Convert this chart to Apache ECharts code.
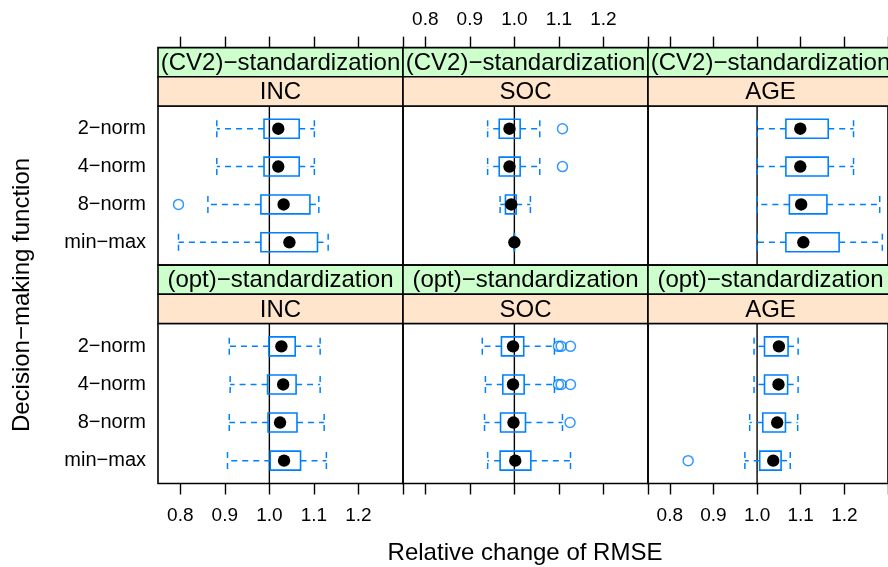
<!DOCTYPE html>
<html>
<head>
<meta charset="utf-8">
<style>
  html, body { margin: 0; padding: 0; background: #fff; }
  #chart { width: 888px; height: 567px; }
</style>
<script src="https://cdn.jsdelivr.net/npm/echarts@6/dist/echarts.min.js"></script>
</head>
<body>
<div id="chart"></div>
<script>
// Decision-making functions (rows inside each panel, top to bottom)
const dmf = ['2−norm', '4−norm', '8−norm', 'min−max'];
// Conditioning variables
const stdLevels = ['(CV2)−standardization', '(opt)−standardization'];
const covariates = ['INC', 'SOC', 'AGE'];
// Axis ticks and labels
const xTicks = [0.8, 0.9, 1.0, 1.1, 1.2, 1.3];
const xLabels = [0.8, 0.9, 1.0, 1.1, 1.2];
const REF = 1.0;

// Box statistics per decision-making function: [lower whisker, Q1, median, Q3, upper whisker]
const cv2Inc = [[0.882, 0.988, 1.020, 1.067, 1.101],
                [0.882, 0.988, 1.020, 1.067, 1.101],
                [0.862, 0.981, 1.032, 1.091, 1.111],
                [0.796, 0.981, 1.045, 1.108, 1.132]];
const cv2IncOut = [[], [], [0.796], []];

const cv2Soc = [[0.940, 0.966, 0.989, 1.013, 1.057],
                [0.940, 0.966, 0.989, 1.013, 1.057],
                [0.968, 0.980, 0.993, 1.004, 1.036],
                [1.000, 1.000, 1.000, 1.000, 1.000]];
const cv2SocOut = [[1.108], [1.108], [], []];

const cv2Age = [[1.000, 1.066, 1.099, 1.163, 1.221],
                [1.000, 1.066, 1.099, 1.163, 1.221],
                [1.000, 1.074, 1.101, 1.160, 1.281],
                [1.000, 1.066, 1.106, 1.188, 1.287]];
const cv2AgeOut = [[], [], [], []];

const optInc = [[0.910, 0.999, 1.027, 1.058, 1.114],
                [0.912, 0.996, 1.031, 1.060, 1.114],
                [0.910, 0.997, 1.024, 1.062, 1.123],
                [0.906, 1.002, 1.033, 1.070, 1.128]];
const optIncOut = [[], [], [], []];

const optSoc = [[0.928, 0.971, 0.997, 1.021, 1.090],
                [0.935, 0.974, 0.997, 1.022, 1.090],
                [0.933, 0.969, 0.998, 1.025, 1.108],
                [0.940, 0.968, 1.002, 1.037, 1.126]];
const optSocOut = [[1.099, 1.105, 1.126], [1.099, 1.105, 1.126], [1.125], []];

const optAge = [[0.993, 1.017, 1.050, 1.071, 1.094],
                [0.993, 1.017, 1.049, 1.070, 1.094],
                [0.983, 1.013, 1.046, 1.065, 1.093],
                [0.972, 1.006, 1.037, 1.055, 1.076]];
const optAgeOut = [[], [], [], [0.842]];

const panels = [
  { row: 0, col: 0, stats: cv2Inc, out: cv2IncOut },
  { row: 0, col: 1, stats: cv2Soc, out: cv2SocOut },
  { row: 0, col: 2, stats: cv2Age, out: cv2AgeOut },
  { row: 1, col: 0, stats: optInc, out: optIncOut },
  { row: 1, col: 1, stats: optSoc, out: optSocOut },
  { row: 1, col: 2, stats: optAge, out: optAgeOut }
];

// Layout
const FONT = '"Liberation Sans", Arial, Helvetica, sans-serif';
const BLUE = '#0080ff';
const PANEL_LEFT = 158, PANEL_W = 245;
const ROW_TOP = [106, 323.5], ROW_H = [159, 160];
const STRIP_H = 29.2;
const X_MIN = 0.75, X_MAX = 1.3, Y_MIN = 0.4, Y_MAX = 4.6;

const grids = [], xAxes = [], yAxes = [], series = [], graphics = [];

panels.forEach((p, g) => {
  const left = PANEL_LEFT + p.col * PANEL_W;
  const top = ROW_TOP[p.row];
  grids.push({
    left: left, top: top, width: PANEL_W, height: ROW_H[p.row],
    show: true, borderColor: '#000', borderWidth: 1.6, backgroundColor: 'transparent'
  });
  xAxes.push({
    type: 'value', gridIndex: g, min: X_MIN, max: X_MAX, position: 'bottom',
    axisLine: { show: false }, splitLine: { show: false },
    axisTick: { show: p.row === 1, customValues: xTicks, length: 11, lineStyle: { color: '#000', width: 1.4 } },
    axisLabel: {
      show: p.row === 1 && p.col !== 1, customValues: xLabels, margin: 23,
      formatter: v => v.toFixed(1), fontSize: 19, color: '#000', fontFamily: FONT
    }
  });
  yAxes.push({
    type: 'value', gridIndex: g, min: Y_MIN, max: Y_MAX, inverse: true,
    axisLine: { show: false }, axisTick: { show: false }, splitLine: { show: false },
    axisLabel: {
      show: p.col === 0, customValues: [1, 2, 3, 4], margin: 12,
      formatter: v => dmf[Math.round(v) - 1], fontSize: 20, color: '#000', fontFamily: FONT
    }
  });

  // reference line at 1
  series.push({
    type: 'line', xAxisIndex: g, yAxisIndex: g, z: 1, silent: true,
    symbol: 'none', lineStyle: { color: '#000', width: 1.4 },
    data: [[REF, Y_MIN], [REF, Y_MAX]]
  });

  // boxes and whiskers
  series.push({
    type: 'custom', xAxisIndex: g, yAxisIndex: g, z: 2, silent: true,
    encode: { x: [1, 2, 3, 4, 5], y: 0 },
    data: p.stats.map((s, i) => [i + 1].concat(s)),
    renderItem: function (params, api) {
      const y = api.value(0);
      const lo = api.coord([api.value(1), y]);
      const q1 = api.coord([api.value(2), y]);
      const md = api.coord([api.value(3), y]);
      const q3 = api.coord([api.value(4), y]);
      const hi = api.coord([api.value(5), y]);
      const bh = api.size([0, 0.5])[1];
      const ch = api.size([0, 0.45])[1];
      const dashed = { stroke: BLUE, lineWidth: 1.5, lineDash: [6, 5], fill: null };
      return {
        type: 'group',
        children: [
          { type: 'line', shape: { x1: q1[0], y1: md[1], x2: lo[0], y2: md[1] }, style: dashed },
          { type: 'line', shape: { x1: q3[0], y1: md[1], x2: hi[0], y2: md[1] }, style: dashed },
          { type: 'line', shape: { x1: lo[0], y1: md[1] - ch / 2, x2: lo[0], y2: md[1] + ch / 2 }, style: dashed },
          { type: 'line', shape: { x1: hi[0], y1: md[1] - ch / 2, x2: hi[0], y2: md[1] + ch / 2 }, style: dashed },
          { type: 'rect', shape: { x: q1[0], y: md[1] - bh / 2, width: q3[0] - q1[0], height: bh },
            style: { stroke: BLUE, lineWidth: 1.6, fill: null } },
          { type: 'circle', shape: { cx: md[0], cy: md[1], r: 6.2 }, style: { fill: '#000' } }
        ]
      };
    }
  });

  // outliers
  const outPts = [];
  p.out.forEach((vals, i) => vals.forEach(v => outPts.push([v, i + 1])));
  series.push({
    type: 'scatter', xAxisIndex: g, yAxisIndex: g, z: 3, silent: true,
    symbol: 'circle', symbolSize: 10,
    itemStyle: { color: 'transparent', borderColor: BLUE, borderWidth: 1.5 },
    data: outPts
  });

  // strips
  const s1Top = top - 2 * STRIP_H;
  graphics.push({
    type: 'rect', z: 10, shape: { x: left, y: s1Top, width: PANEL_W, height: STRIP_H },
    style: { fill: '#ccffcc', stroke: '#000', lineWidth: 1.6 }
  });
  graphics.push({
    type: 'text', z: 11, x: left + PANEL_W / 2, y: s1Top + STRIP_H / 2 + 1,
    style: { text: stdLevels[p.row], align: 'center', verticalAlign: 'middle',
             fontSize: 24, fontFamily: FONT, fill: '#000' }
  });
  graphics.push({
    type: 'rect', z: 10, shape: { x: left, y: top - STRIP_H, width: PANEL_W, height: STRIP_H },
    style: { fill: '#ffe5cc', stroke: '#000', lineWidth: 1.6 }
  });
  graphics.push({
    type: 'text', z: 11, x: left + PANEL_W / 2, y: top - STRIP_H / 2 + 1,
    style: { text: covariates[p.col], align: 'center', verticalAlign: 'middle',
             fontSize: 24, fontFamily: FONT, fill: '#000' }
  });
});

// top axes over the upper row of panels
[0, 1, 2].forEach(c => {
  xAxes.push({
    type: 'value', gridIndex: c, min: X_MIN, max: X_MAX, position: 'top', offset: 2 * STRIP_H,
    axisLine: { show: false }, splitLine: { show: false },
    axisTick: { show: true, customValues: xTicks, length: 11, lineStyle: { color: '#000', width: 1.4 } },
    axisLabel: {
      show: c === 1, customValues: xLabels, margin: 18,
      formatter: v => v.toFixed(1), fontSize: 19, color: '#000', fontFamily: FONT
    }
  });
});

// axis titles
graphics.push({
  type: 'text', x: 525, y: 553,
  style: { text: 'Relative change of RMSE', align: 'center', verticalAlign: 'middle',
           fontSize: 24, fontFamily: FONT, fill: '#000' }
});
graphics.push({
  type: 'text', x: 22, y: 295, rotation: Math.PI / 2,
  style: { text: 'Decision−making function', align: 'center', verticalAlign: 'middle',
           fontSize: 24, fontFamily: FONT, fill: '#000' }
});

const chart = echarts.init(document.getElementById('chart'), null, { renderer: 'canvas' });
chart.setOption({
  animation: false,
  backgroundColor: '#fff',
  grid: grids,
  xAxis: xAxes,
  yAxis: yAxes,
  series: series,
  graphic: graphics
});
</script>
</body>
</html>
